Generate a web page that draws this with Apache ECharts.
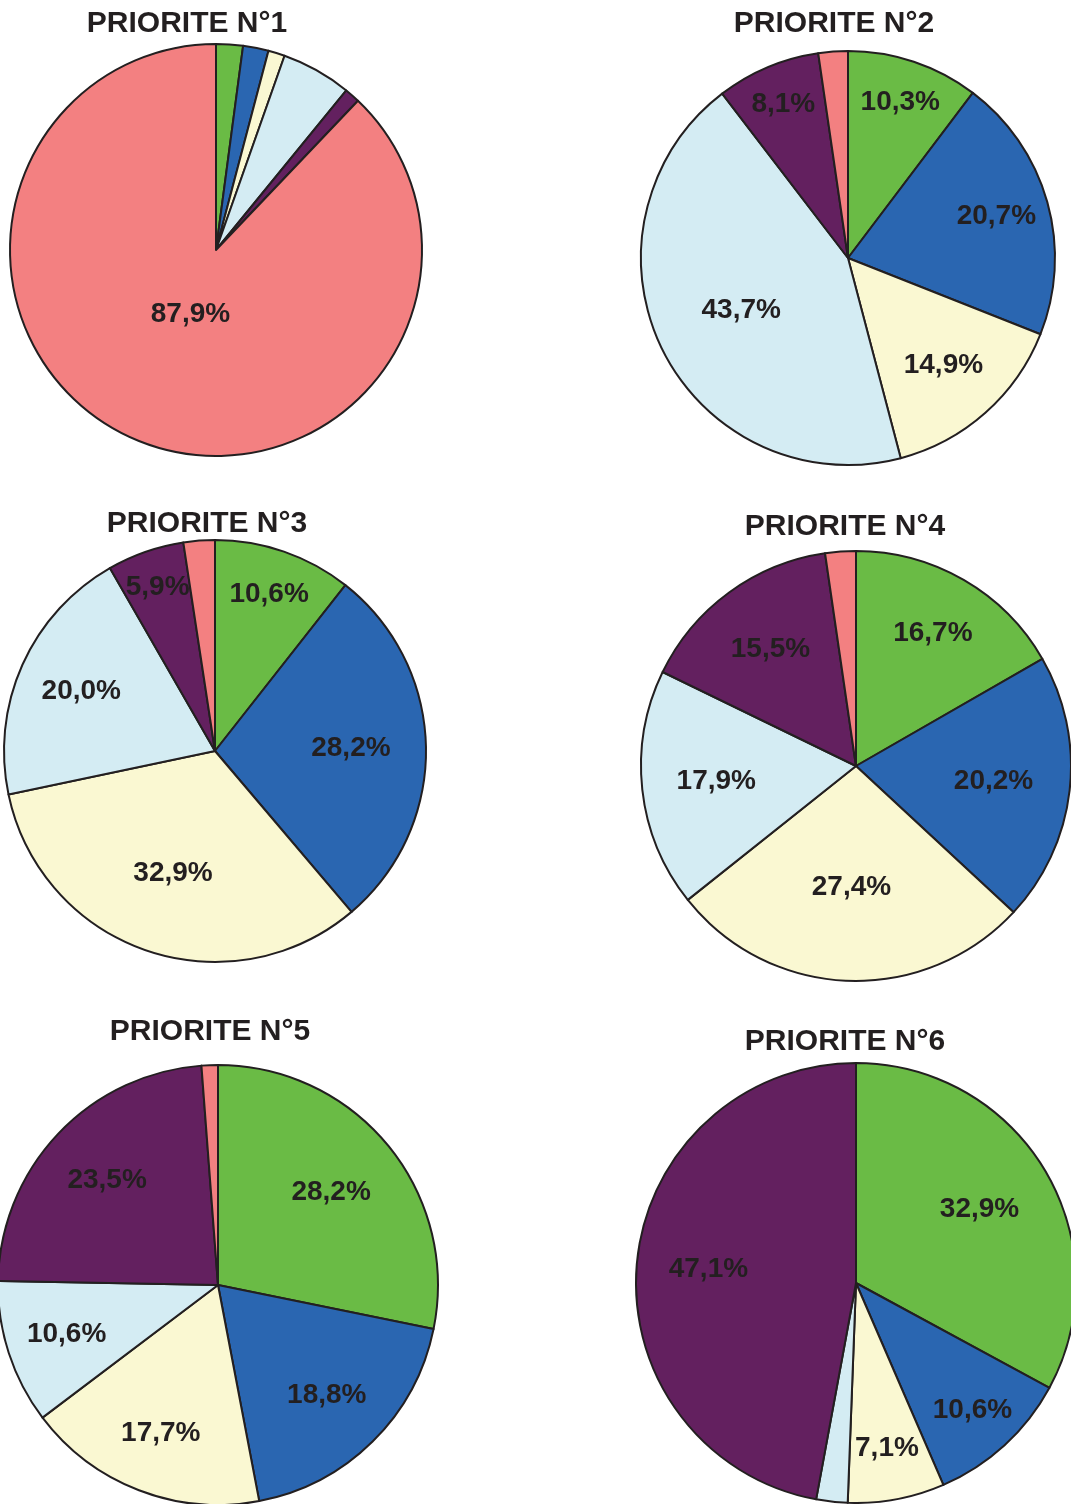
<!DOCTYPE html>
<html>
<head>
<meta charset="utf-8">
<title>PRIORITE</title>
<script src="https://cdn.jsdelivr.net/npm/echarts@6/dist/echarts.min.js"></script>
<style>
	html,body{margin:0;padding:0;background:#fff;}
	#chart{width:1071px;height:1504px;}
</style>
</head>
<body>
<div id="chart"></div>
<script>
	/*data*/
	var categories=['vert','bleu','jaune','bleu clair','violet','rose'];
	var titles=['PRIORITE N°1','PRIORITE N°2','PRIORITE N°3','PRIORITE N°4','PRIORITE N°5','PRIORITE N°6'];
	var priorite1=[2.1, 2.0, 1.3, 5.5, 1.2, 87.9];
	var priorite2=[10.3, 20.7, 14.9, 43.7, 8.1, 2.3];
	var priorite3=[10.6, 28.2, 32.9, 20.0, 5.9, 2.4];
	var priorite4=[16.7, 20.2, 27.4, 17.9, 15.5, 2.3];
	var priorite5=[28.2, 18.8, 17.7, 10.6, 23.5, 1.2];
	var priorite6=[32.9, 10.6, 7.1, 2.3, 47.1, 0];
	var values=[priorite1,priorite2,priorite3,priorite4,priorite5,priorite6];
	/*data end*/

	var colors=['#6abb45','#2a66b1','#faf8d2','#d4ecf3','#63205f','#f38081'];
	// position / taille de chaque camembert
	var centers=[[216,250],[848,258],[215,751],[856,766],[218,1285],[856,1283]];
	var radii=[206,207,211,215,220,220];
	// distance des étiquettes (fraction du rayon), 0 = pas d'étiquette
	var labelFrac=[
		[0,0,0,0,0,0.32],
		[0.78,0.73,0.68,0.56,0.79,0],
		[0.77,0.63,0.60,0.68,0.81,0],
		[0.70,0.63,0.55,0.64,0.66,0],
		[0.65,0.69,0.71,0.71,0.68,0],
		[0.64,0.77,0.75,0,0.66,0]
	];
	var titlePos=[[187,9],[834,9],[207,509],[845,512],[210,1017],[845,1027]];

	var fmt=function(v){
		return v.toFixed(1).replace('.',',') + '%';
	}

	var myChart=echarts.init(document.getElementById('chart'),null,{renderer:'canvas'});
	var title=[];
	var series=[];
	for (var i = 0; i < values.length; i++) {
		var data=[];
		for (var j = 0; j < categories.length; j++) {
			data.push({name:categories[j],value:values[i][j]});
		}
		title.push({
			text:titles[i],
			left:titlePos[i][0],
			top:titlePos[i][1],
			textAlign:'center',
			padding:0,
			textStyle:{
				fontFamily:'Liberation Sans, Arial, sans-serif',
				fontSize:30,
				fontWeight:'bold',
				color:'#231f20'
			}
		});
		// le camembert
		series.push({
			type:'pie',
			center:centers[i],
			radius:[0,radii[i]],
			startAngle:90,
			clockwise:true,
			animation:false,
			silent:true,
			label:{show:false},
			labelLine:{show:false},
			itemStyle:{
				borderColor:'#231f20',
				borderWidth:2
			},
			data:data
		});
		// les étiquettes : un anneau invisible par part
		for (var k = 0; k < categories.length; k++) {
			if(!labelFrac[i][k]) continue;
			(function(idx){
				series.push({
					type:'pie',
					center:centers[i],
					radius:[0,radii[i]*labelFrac[i][idx]*2],
					startAngle:90,
					clockwise:true,
					animation:false,
					silent:true,
					z:5,
					itemStyle:{color:'transparent',borderWidth:0},
					labelLine:{show:false},
					label:{
						show:true,
						position:'inside',
						formatter:function(p){
							return p.dataIndex==idx ? fmt(p.value) : '';
						},
						fontFamily:'Liberation Sans, Arial, sans-serif',
						fontSize:28,
						fontWeight:'bold',
						color:'#231f20'
					},
					data:data
				});
			})(k);
		}
	}

	var option={
		color:colors,
		title:title,
		series:series
	};
	myChart.setOption(option);
</script>
</body>
</html>
